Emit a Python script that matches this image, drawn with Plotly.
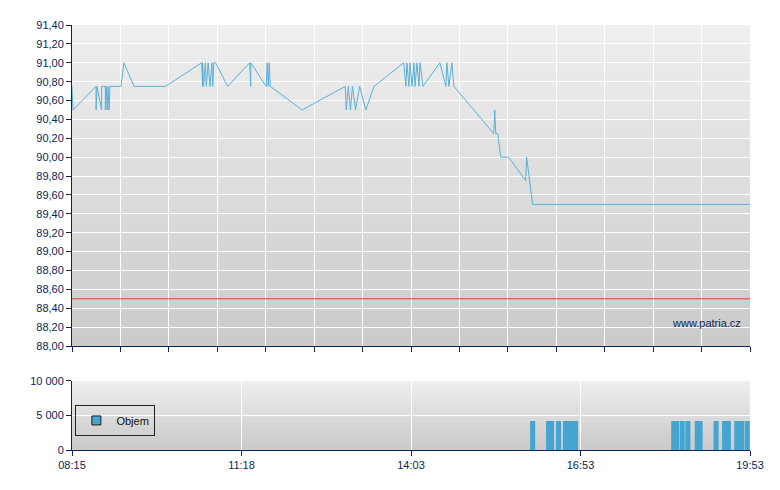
import numpy as np
import plotly.graph_objects as go

# ---------------- data ----------------
tick_labels = ["08:15", "11:18", "14:03", "16:53", "19:53"]

price_times = [
    "08:15", "08:16", "08:41", "08:41", "08:42", "08:47", "08:47", "08:51", "08:51", "08:52",
    "08:53", "08:54", "08:55", "08:56", "09:08", "09:11", "09:22", "09:56",
    "10:35", "10:36", "10:36", "10:37", "10:39", "10:40", "10:42", "10:44", "10:46", "10:47",
    "10:48", "10:50", "11:03", "11:26", "11:27", "11:27", "11:42", "11:43", "11:44", "11:45",
    "11:46", "12:17", "12:59", "13:00", "13:02", "13:04", "13:06", "13:09", "13:13", "13:19",
    "13:27", "13:56", "13:58", "13:59", "14:01", "14:02", "14:04", "14:06", "14:07", "14:09",
    "14:11", "14:12", "14:15", "14:32", "14:38", "14:39", "14:41", "14:44", "14:46",
    "15:26", "15:27", "15:28", "15:30", "15:33", "15:41", "15:58", "15:59", "16:05", "19:53",
]
price_values = [
    90.75, 90.50, 90.75, 90.50, 90.75, 90.50, 90.75, 90.75, 90.50, 90.75,
    90.50, 90.75, 90.50, 90.75, 90.75, 91.00, 90.75, 90.75,
    91.00, 90.75, 91.00, 90.75, 91.00, 90.75, 91.00, 90.75, 91.00, 90.75,
    91.00, 91.00, 90.75, 91.00, 90.75, 91.00, 90.75, 91.00, 90.75, 91.00,
    90.75, 90.50, 90.75, 90.50, 90.75, 90.50, 90.75, 90.50, 90.75, 90.50,
    90.75, 91.00, 90.75, 91.00, 90.75, 91.00, 90.75, 91.00, 90.75, 91.00,
    90.75, 91.00, 90.75, 91.00, 90.75, 91.00, 90.75, 91.00, 90.75,
    90.25, 90.50, 90.25, 90.25, 90.00, 90.00, 89.75, 90.00, 89.50, 89.50,
]

volume_times = [
    "16:05", "16:21", "16:24", "16:31", "16:38", "16:43", "16:48",
    "18:32", "18:35", "18:41", "18:47", "18:57", "19:00", "19:17",
    "19:26", "19:30", "19:39", "19:44", "19:50",
]
volume_values = [4200] * len(volume_times)

reference_price = 88.50
price_ticks = [round(88.0 + 0.2 * i, 2) for i in range(18)]
volume_ticks = [0, 5000, 10000]


# ---------------- helpers ----------------
def minutes(t):
    h, m = t.split(":")
    return int(h) * 60 + int(m)


tick_min = [minutes(t) for t in tick_labels]
tick_pos = list(range(len(tick_labels)))


def to_pos(times):
    return np.interp([minutes(t) for t in times], tick_min, tick_pos)


px = to_pos(price_times)
vx = to_pos(volume_times)

NAVY = "#0c2557"
LINE_C = "#5ab0d8"
BAR_C = "#45a5cf"
FONT = "Liberation Sans, Arial, sans-serif"
BAR_W = 0.03

fig = go.Figure()

fig.add_trace(go.Scatter(
    x=px, y=price_values, mode="lines",
    line=dict(color=LINE_C, width=1), showlegend=False,
    xaxis="x", yaxis="y", hoverinfo="skip",
))

fig.add_trace(go.Bar(
    x=vx, y=volume_values, width=BAR_W, name="Objem",
    marker=dict(color=BAR_C, line=dict(width=0)),
    xaxis="x2", yaxis="y2", showlegend=False,
))

# legend entry for the volume series (square swatch with dark outline)
fig.add_trace(go.Scatter(
    x=[None], y=[None], mode="markers", name="Objem",
    marker=dict(symbol="square", size=9, color=BAR_C, line=dict(color="#1a1a1a", width=1)),
    xaxis="x2", yaxis="y2", showlegend=True,
))

# reference line
shapes = [dict(type="line", xref="x domain", yref="y", x0=0, x1=1,
               y0=reference_price, y1=reference_price,
               line=dict(color="#e03a3a", width=1), layer="above")]

# gradient backgrounds
for xr, yr, N in (("x domain", "y domain", 40), ("x2 domain", "y2 domain", 14)):
    for i in range(N):
        f = i / (N - 1)
        c = int(round(239 - (239 - 203) * f))
        shapes.append(dict(type="rect", xref=xr, yref=yr, x0=0, x1=1,
                           y0=max(0, 1 - (i + 1) / N), y1=min(1, 1 - i / N + 0.5 / N),
                           fillcolor=f"rgb({c},{c},{c})", line=dict(width=0),
                           layer="below"))

grid_x = [4 * k / 14 for k in range(15)]

fig.update_layout(
    width=772, height=482,
    margin=dict(l=64, r=30, t=17, b=40),
    paper_bgcolor="white", plot_bgcolor="rgb(220,220,220)",
    separators=", ",
    font=dict(family=FONT, size=11, color=NAVY),
    barmode="overlay",
    shapes=shapes,
    xaxis=dict(domain=[0, 1], range=[0, 4], anchor="y",
               tickmode="array", tickvals=grid_x, showticklabels=False,
               ticks="outside", ticklen=5, tickcolor=NAVY,
               showgrid=True, gridcolor="white", gridwidth=1,
               showline=True, linecolor=NAVY, linewidth=1, zeroline=False,
               fixedrange=True),
    yaxis=dict(domain=[0.2447, 1], range=[88.0, 91.4], anchor="x",
               tickmode="array", tickvals=price_ticks, tickformat=".2f",
               ticks="outside", ticklen=5, tickcolor=NAVY,
               showgrid=True, gridcolor="white", gridwidth=1,
               showline=True, linecolor=NAVY, linewidth=1, zeroline=False,
               tickfont=dict(size=11, color=NAVY)),
    xaxis2=dict(domain=[0, 1], range=[0, 4], anchor="y2",
                tickmode="array", tickvals=tick_pos, ticktext=tick_labels,
                ticks="outside", ticklen=5, tickcolor=NAVY,
                showgrid=True, gridcolor="white", gridwidth=1,
                showline=True, linecolor=NAVY, linewidth=1, zeroline=False,
                tickfont=dict(size=11, color=NAVY)),
    yaxis2=dict(domain=[0, 0.1624], range=[0, 10000], anchor="x2",
                tickmode="array", tickvals=volume_ticks, tickformat=",d",
                ticks="outside", ticklen=5, tickcolor=NAVY,
                showgrid=True, gridcolor="white", gridwidth=1,
                showline=True, linecolor=NAVY, linewidth=1, zeroline=False,
                tickfont=dict(size=11, color=NAVY)),
    legend=dict(x=0.005, y=0.106, xanchor="left", yanchor="top",
                bgcolor="rgba(0,0,0,0)", bordercolor="#222222", borderwidth=1,
                font=dict(size=11, color="#111111"), itemwidth=30,
                tracegroupgap=0),
    annotations=[dict(text="www.patria.cz", xref="x domain", yref="y domain",
                      x=0.99, y=0.072, xanchor="right", yanchor="middle",
                      showarrow=False, font=dict(size=11, color=NAVY))],
)

fig.write_html("out.html")
